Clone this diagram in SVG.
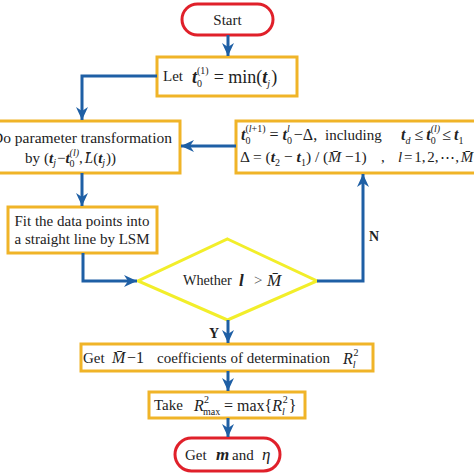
<svg xmlns="http://www.w3.org/2000/svg" width="474" height="474" viewBox="0 0 474 474">
<style>
svg{font-family:"Liberation Serif","DejaVu Serif",serif;font-size:15px}
.bg{fill:#ffffff}
.box{fill:#ffffff;stroke:#f0b428;stroke-width:3}
.term{fill:#ffffff;stroke:#e0202a;stroke-width:3}
.dia{fill:#ffffff;stroke:#f2ee2a;stroke-width:3}
.con{fill:none;stroke:#1e5fa5;stroke-width:3}
.tx{fill:#222222}
.gt{fill:#555555}
.m{font-style:italic}
.b{font-weight:bold}
.s{font-size:10px}
.lbl{font-weight:bold;font-size:14px;fill:#222222}
</style>
<defs>
<marker id="ah" markerUnits="userSpaceOnUse" markerWidth="14" markerHeight="14" viewBox="0 0 14 14" refX="13" refY="7" orient="auto">
<path d="M0,1 L13,7 L0,13 L4,7 z" fill="#1e5fa5"/>
</marker>
</defs>
<rect class="bg" x="0" y="0" width="474" height="474"/>

<g id="start" class="tx">
<rect class="term" x="182" y="4" width="91" height="31" rx="15.5"/>
<text x="227.5" y="25" text-anchor="middle">Start</text>
</g>

<g id="let" class="tx">
<rect class="box" x="157" y="57" width="140" height="39"/>
<text x="163" y="81">Let</text>
<text x="192" y="83" font-size="18"><tspan class="m b">t</tspan><tspan class="s" dy="4">0</tspan><tspan class="s" dx="-5" dy="-13">(1)</tspan><tspan dx="5" dy="9">= min(</tspan><tspan class="m b">t</tspan><tspan class="s m" dy="4">j</tspan><tspan dx="1" dy="-4">)</tspan></text>
</g>

<g id="transform" class="tx">
<rect class="box" x="-12" y="121" width="192" height="52"/>
<text x="82" y="143" text-anchor="middle" font-size="15.5">Do parameter transformation</text>
<text x="25" y="163">by</text>
<text x="44" y="163" font-size="15">(<tspan class="m b">t</tspan><tspan class="s m" dy="3">j</tspan><tspan dx="1" dy="-3">−</tspan><tspan class="m b">t</tspan><tspan class="s" dy="4">0</tspan><tspan class="s m" dx="-5" dy="-11">(l)</tspan><tspan dy="7">,</tspan><tspan class="m" dx="2">L̄</tspan>(<tspan class="m b">t</tspan><tspan class="s m" dy="3">j</tspan><tspan dx="1" dy="-3">))</tspan></text>
</g>

<g id="update" class="tx">
<rect class="box" x="236" y="121" width="250" height="52"/>
<text x="241" y="140" font-size="16"><tspan class="m b">t</tspan><tspan class="s" dy="4">0</tspan><tspan class="s" dx="-5" dy="-12">(<tspan class="m">l</tspan>+1)</tspan><tspan dx="4" dy="8">=</tspan><tspan class="m b" dx="4">t</tspan><tspan class="s" dy="4">0</tspan><tspan class="s m" dx="-5" dy="-12">l</tspan><tspan dx="4" dy="8">−Δ,</tspan></text>
<text x="325" y="140">including</text>
<text x="401" y="140" font-size="16"><tspan class="m b">t</tspan><tspan class="s m" dy="4">d</tspan><tspan dx="4" dy="-4">≤</tspan><tspan class="m b" dx="3">t</tspan><tspan class="s" dy="4">0</tspan><tspan class="s m" dx="-5" dy="-12">(l)</tspan><tspan dx="2" dy="8">≤</tspan><tspan class="m b" dx="3">t</tspan><tspan class="s" dy="4">1</tspan></text>
<text x="240" y="162" font-size="15.5">Δ = (<tspan class="m b">t</tspan><tspan class="s" dy="4">2</tspan><tspan dy="-4"> − </tspan><tspan class="m b">t</tspan><tspan class="s" dy="4">1</tspan><tspan dy="-4">) / (</tspan><tspan class="m">M̄</tspan> −1)</text>
<text x="381" y="162">,</text>
<text x="398" y="162" font-size="15" word-spacing="-2"><tspan class="m">l</tspan> = 1, 2, ⋯, <tspan class="m">M̄</tspan></text>
</g>

<g id="fit" class="tx">
<rect class="box" x="8" y="207" width="149" height="46"/>
<text x="82" y="226" text-anchor="middle">Fit the data points into</text>
<text x="82" y="244" text-anchor="middle">a straight line by LSM</text>
</g>

<g id="decision" class="tx">
<polygon class="dia" points="227.5,239 317,281 227.5,320 138,281"/>
<text x="183" y="285" font-size="14.2">Whether</text>
<text x="239" y="286" class="m b" font-size="17">l</text>
<text x="254" y="285" class="gt">&gt;</text>
<text x="267" y="286" class="m" font-size="17">M̄</text>
</g>

<g id="coeffs" class="tx">
<rect class="box" x="81" y="344" width="292" height="27"/>
<text x="83" y="363">Get</text>
<text x="112" y="363" class="m" font-size="16">M̄</text>
<text x="127" y="363" font-size="16">−1</text>
<text x="157" y="363">coefficients of determination</text>
<text x="343" y="364" font-size="16"><tspan class="m">R</tspan><tspan class="s m" dy="4">l</tspan><tspan class="s" dx="-2" dy="-12">2</tspan></text>
</g>

<g id="take" class="tx">
<rect class="box" x="149" y="392" width="156" height="26"/>
<text x="154" y="410">Take</text>
<text x="194" y="411" class="m" font-size="16">R</text>
<text x="204" y="403" class="s">2</text>
<text x="203" y="415" class="s">max</text>
<text x="224" y="411" font-size="16">= max{<tspan class="m">R</tspan><tspan class="s m" dy="4">l</tspan><tspan class="s" dx="-2" dy="-12">2</tspan><tspan dx="1" dy="8">}</tspan></text>
</g>

<g id="end" class="tx">
<rect class="term" x="175" y="438" width="105" height="33" rx="16.5"/>
<text x="185" y="460">Get</text>
<text x="216" y="460" class="m b" font-size="17">m</text>
<text x="232" y="460">and</text>
<text x="262" y="460" class="m" font-size="17">η</text>
</g>

<g id="connectors">
<path class="con" d="M228,35 L228,56" marker-end="url(#ah)"/>
<path class="con" d="M157,76 L82,76 L82,120" marker-end="url(#ah)"/>
<path class="con" d="M236,146 L181,146" marker-end="url(#ah)"/>
<path class="con" d="M82,173 L82,206" marker-end="url(#ah)"/>
<path class="con" d="M83,253 L83,281 L137,281" marker-end="url(#ah)"/>
<path class="con" d="M317,281 L363,281 L363,174" marker-end="url(#ah)"/>
<path class="con" d="M228,320 L228,343" marker-end="url(#ah)"/>
<path class="con" d="M228,371 L228,391" marker-end="url(#ah)"/>
<path class="con" d="M228,418 L228,437" marker-end="url(#ah)"/>
<text x="369" y="241" class="lbl">N</text>
<text x="209" y="338" class="lbl">Y</text>
</g>
</svg>
